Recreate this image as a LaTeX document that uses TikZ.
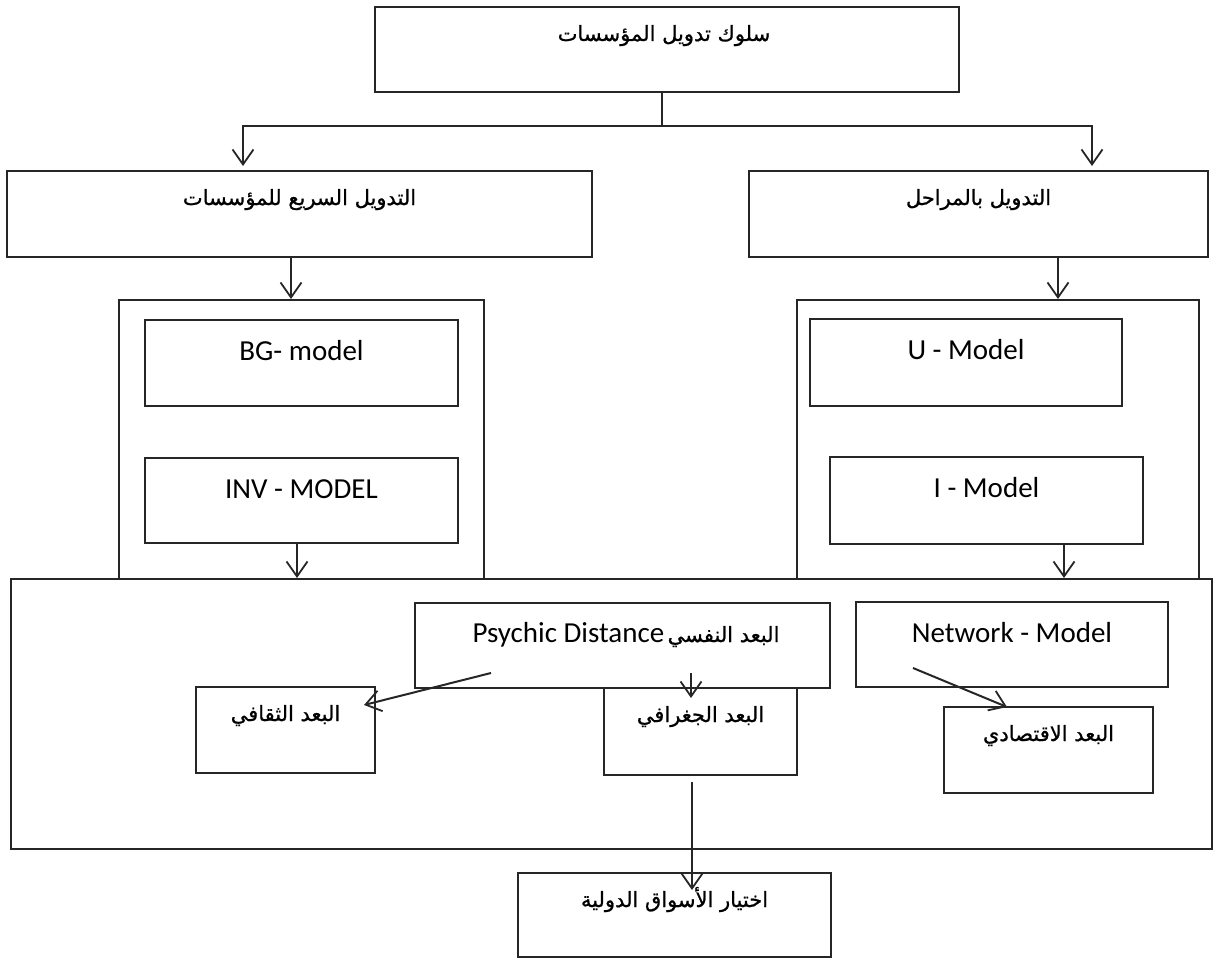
\documentclass[tikz,border=0pt]{standalone}
\usepackage{fontspec}
\usetikzlibrary{arrows.meta}
\TeXXeTstate=1
\newfontfamily\arabicfont[Script=Arabic,FakeBold=0.9]{DejaVu Sans}
\newfontfamily\latinfont{Carlito}
\newcommand{\ar}[1]{{\arabicfont\fontsize{21}{25}\selectfont\beginR #1\endR}}
\newcommand{\lat}[1]{{\latinfont\fontsize{29}{33}\selectfont #1}}
\tikzset{
  box/.style={draw=black!85, line width=2pt, inner sep=0pt, fill=none},
  txt/.style={anchor=base, inner sep=0pt},
  arr/.style={draw=black!85, line width=2pt,
    -{Straight Barb[length=15pt,width=21pt,line width=1.8pt]}},
  ln/.style={draw=black!85, line width=2pt}
}
\begin{document}
\begin{tikzpicture}[x=1pt,y=-1pt]
\useasboundingbox (0,0) rectangle (1217,960);

% main boxes
\node[box, minimum width=584pt, minimum height=85pt] (top)   at (667,49.5) {};
\node[box, minimum width=585pt, minimum height=86pt] (fast)  at (299.5,214) {};
\node[box, minimum width=459pt, minimum height=86pt] (stage) at (978.5,214) {};

% model containers
\node[box, minimum width=365pt, minimum height=279pt] (lcont) at (301.5,439.5) {};
\node[box, minimum width=402pt, minimum height=279pt] (rcont) at (998,439.5) {};
\node[box, minimum width=313pt, minimum height=86pt] (bg)  at (301.5,363) {};
\node[box, minimum width=313pt, minimum height=85pt] (inv) at (301.5,500.5) {};
\node[box, minimum width=312pt, minimum height=87pt] (um)  at (966,362.5) {};
\node[box, minimum width=313pt, minimum height=87pt] (im)  at (986.5,500.5) {};

% distance frame
\node[box, minimum width=1201pt, minimum height=270pt] (big) at (611.5,714) {};
\node[box, minimum width=415pt, minimum height=85pt] (psy) at (622.5,645.5) {};
\node[box, minimum width=312pt, minimum height=85pt] (net) at (1012,644.5) {};
\node[box, minimum width=179pt, minimum height=86pt] (cul) at (285.5,730) {};
\node[box, minimum width=193pt, minimum height=87pt] (geo) at (700.5,731.5) {};
\node[box, minimum width=209pt, minimum height=86pt] (eco) at (1048.5,750) {};
\node[box, minimum width=313pt, minimum height=84pt] (fin) at (674.5,915) {};

% texts
\node[txt] (top-t)   at (664,41)   {\ar{سلوك تدويل المؤسسات}};
\node[txt] (fast-t)  at (299.5,205) {\ar{التدويل السريع للمؤسسات}};
\node[txt] (stage-t) at (978.5,205) {\ar{التدويل بالمراحل}};
\node[txt] (bg-t)    at (301.5,360) {\lat{BG- model}};
\node[txt] (inv-t)   at (301.5,498) {\lat{INV - MODEL}};
\node[txt] (um-t)    at (966,359)   {\lat{U - Model}};
\node[txt] (im-t)    at (986.5,497) {\lat{I - Model}};
\node[txt] (psy-t)   at (626,642) {\lat{Psychic Distance} \ar{البعد النفسي}};
\node[txt] (net-t)   at (1012,642)  {\lat{Network - Model}};
\node[txt] (cul-t)   at (285.5,721) {\ar{البعد الثقافي}};
\node[txt] (geo-t)   at (700.5,722) {\ar{البعد الجغرافي}};
\node[txt] (eco-t)   at (1048.5,741) {\ar{البعد الاقتصادي}};
\node[txt] (fin-t)   at (674.5,907) {\ar{اختيار الأسواق الدولية}};

% branching from the top box
\coordinate (j)  at (662,126);
\coordinate (jl) at (243,126);
\coordinate (jr) at (1092,126);
\draw[ln] (top.south -| j) -- (j);
\draw[arr, shorten >=4pt] (j) -- (jl) -- (jl |- fast.north);
\draw[arr, shorten >=4pt] (j) -- (jr) -- (jr |- stage.north);

% down into the model containers
\coordinate (fa) at (291,0);
\coordinate (sa) at (1058,0);
\draw[arr] (fast.south -| fa) -- (lcont.north -| fa);
\draw[arr] (stage.south -| sa) -- (rcont.north -| sa);

% down into the distance frame
\coordinate (ia) at (297,0);
\coordinate (ua) at (1064,0);
\draw[arr] (inv.south -| ia) -- (big.north -| ia);
\draw[arr] (im.south -| ua) -- (big.north -| ua);

% distance arrows
\coordinate (p1) at (491,673);
\coordinate (c1) at (364,705);
\draw[arr] (p1) -- (c1);
\coordinate (p2) at (691,673);
\coordinate (g1) at (691,698);
\draw[arr] (p2) -- (g1);
\coordinate (n1) at (913,668);
\coordinate (e1) at (1007,707);
\draw[arr] (n1) -- (e1);
\coordinate (g2) at (692,782);
\coordinate (f1) at (692,890);
\draw[arr] (g2) -- (f1);
\end{tikzpicture}
\end{document}
